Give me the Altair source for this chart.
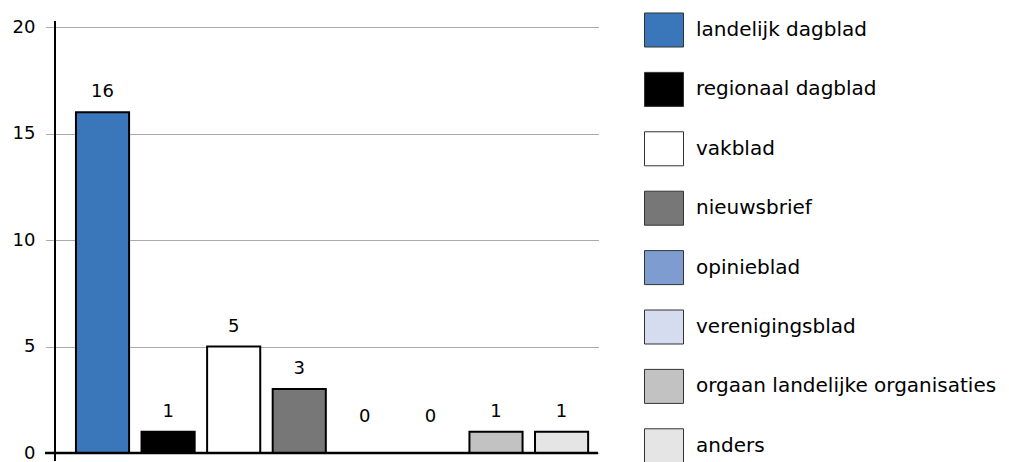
import altair as alt
import pandas as pd

categories = ["landelijk dagblad", "regionaal dagblad", "vakblad", "nieuwsbrief",
              "opinieblad", "verenigingsblad", "orgaan landelijke organisaties", "anders"]
values = [16, 1, 5, 3, 0, 0, 1, 1]
colors = ["#3a77ba", "#000000", "#ffffff", "#777777",
          "#7f9cd1", "#d6dcef", "#c2c2c2", "#e5e5e5"]
y_ticks = [0, 5, 10, 15, 20]

df = pd.DataFrame({"cat": categories, "value": values})

W, H = 543, 426
FONT = "DejaVu Sans"

x_enc = alt.X("cat:N", sort=categories, axis=None,
              scale=alt.Scale(paddingInner=0.19, paddingOuter=0.235, align=0.68))

bars = alt.Chart(df).mark_bar(stroke="black", strokeWidth=2, opacity=1).encode(
    x=x_enc,
    y=alt.Y("value:Q", scale=alt.Scale(domain=[0, 20], nice=False),
            axis=alt.Axis(values=y_ticks, title=None, grid=True, gridDash=[1, 1],
                          gridColor="#555555", gridWidth=1, tickDash=[1, 1],
                          tickColor="#555555", tickSize=10, tickWidth=1, domain=False,
                          labelFontSize=18, labelFont=FONT, labelColor="black",
                          labelPadding=10)),
    fill=alt.Fill("cat:N", sort=categories,
                  scale=alt.Scale(domain=categories, range=colors),
                  legend=alt.Legend(title=None, orient="none", legendX=589, legendY=-17,
                                    symbolType="M-1,-0.872H1V0.872H-1Z", symbolSize=1521,
                                    symbolStrokeColor="#333333", symbolStrokeWidth=1,
                                    symbolOpacity=1, labelFontSize=20, labelFont=FONT,
                                    labelColor="black", labelOffset=12, rowPadding=19.4,
                                    labelLimit=400, padding=0, columns=1)),
)

labels = alt.Chart(df).transform_calculate(
    ly="max(datum.value, 0.75)"
).mark_text(baseline="bottom", dy=-11, fontSize=18, font=FONT, color="black").encode(
    x=x_enc,
    y=alt.Y("ly:Q"),
    text=alt.Text("value:Q"),
)

baseline = alt.Chart(pd.DataFrame({"v": [0]})).mark_rule(color="black", strokeWidth=2.5).encode(
    y=alt.Y("v:Q"), x=alt.value(-10), x2=alt.value(W)
)
yaxis_line = alt.Chart(pd.DataFrame({"v": [0]})).mark_rule(color="black", strokeWidth=2).encode(
    x=alt.value(0), y=alt.value(-6), y2=alt.value(H + 8)
)

chart = alt.layer(bars, labels, baseline, yaxis_line).properties(
    width=W, height=H,
    autosize=alt.AutoSizeParams(type="none"),
    padding={"left": 47, "top": 19, "right": 403, "bottom": 9},
).configure_view(stroke=None)

chart.save("out.html", embed_options={"renderer": "svg", "actions": False})
